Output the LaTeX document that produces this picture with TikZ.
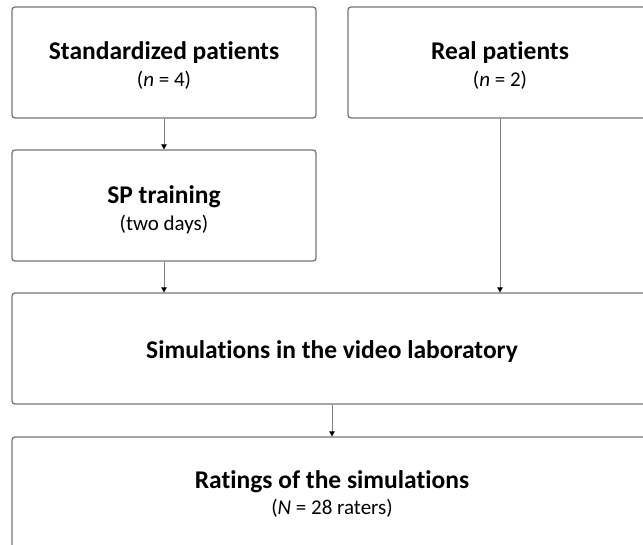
\documentclass[tikz,border=0pt]{standalone}
\usepackage{fontspec}
\setmainfont{Carlito}[Ligatures={NoCommon,NoRequired,NoContextual}]
\usetikzlibrary{arrows.meta}
\definecolor{boxgray}{HTML}{767676}
\definecolor{linkgray}{HTML}{808080}
\begin{document}
\begin{tikzpicture}[x=1pt,y=-1pt,
  box/.style={draw=boxgray, line width=1.3pt, rounded corners=3pt, fill=white,
    minimum width=304pt, minimum height=111pt, inner sep=0pt},
  widebox/.style={box, minimum width=640pt},
  ttl/.style={anchor=base, inner sep=0pt, font=\fontsize{25.5}{30}\selectfont\bfseries},
  sub/.style={anchor=base, inner sep=0pt, font=\fontsize{21}{25}\selectfont},
  link/.style={draw=linkgray, line width=0.8pt,
    -{Triangle[length=5pt,width=5.5pt,color=black]}}]
\useasboundingbox (0,0) rectangle (643,544);
\fill[white] (0,0) rectangle (643,544);

% boxes
\node[box] (sp) at (164,62.5) {};
\node[box] (rp) at (500,62.5) {};
\node[box] (tr) at (164,205.5) {};
\node[widebox] (sim) at (332,348.5) {};
\node[widebox] (rat) at (332,492.5) {};

% box texts
\node[ttl] (spT) at ([yshift=-53pt]sp.north) {Standardized patients};
\node[sub] (spS) at ([yshift=-80pt]sp.north) {(\textit{n} = 4)};
\node[ttl] (rpT) at ([yshift=-53pt]rp.north) {Real patients};
\node[sub] (rpS) at ([yshift=-80pt]rp.north) {(\textit{n} = 2)};
\node[ttl] (trT) at ([yshift=-54pt]tr.north) {SP training};
\node[sub] (trS) at ([yshift=-81pt]tr.north) {(two days)};
\node[ttl] (simT) at ([yshift=-66pt]sim.north) {Simulations in the video laboratory};
\node[ttl] (ratT) at ([yshift=-52pt]rat.north) {Ratings of the simulations};
\node[sub] (ratS) at ([yshift=-78pt]rat.north) {(\textit{N} = 28 raters)};

% connectors
\draw[link] (sp.south) -- (tr.north);
\draw[link] (tr.south) -- (tr.south |- sim.north);
\draw[link] (rp.south) -- (rp.south |- sim.north);
\draw[link] (sim.south) -- (rat.north);
\end{tikzpicture}
\end{document}
